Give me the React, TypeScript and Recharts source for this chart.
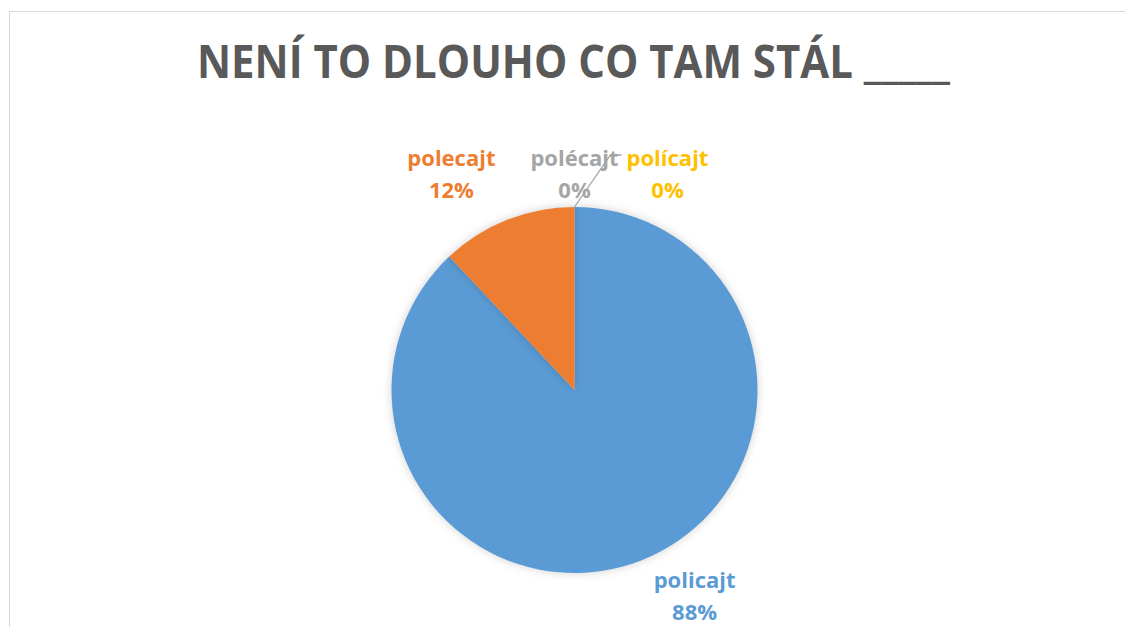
import React from "react";
import { PieChart, Pie, Cell } from "recharts";

const NAMES = ["policajt", "polecajt", "polécajt", "polícajt"];
const VALUES = [88, 12, 0, 0];
const COLORS = ["#5B9BD5", "#ED7D31", "#A5A5A5", "#FFC000"];
const TITLE = "NENÍ TO DLOUHO CO TAM STÁL _____";

// small nudges so labels sit where Excel's best-fit put them
const LABEL_NUDGE = [
  [38, -1],
  [-41, -9],
  [0, 7],
  [93, 7],
];

const data = NAMES.map((name, i) => ({ name, value: VALUES[i] }));

const FONT = "'Open Sans', 'DejaVu Sans', sans-serif";
const RAD = Math.PI / 180;

const renderLabel = (props: any) => {
  const { cx, cy, midAngle, outerRadius, percent, index } = props;
  const r = outerRadius + 40;
  const x = cx + r * Math.cos(-midAngle * RAD) + LABEL_NUDGE[index][0];
  const y = cy + r * Math.sin(-midAngle * RAD) + LABEL_NUDGE[index][1];
  const color = COLORS[index];
  return (
    <g key={`lbl-${index}`}>
      {index === 2 && (
        <polyline
          points={`${cx},${cy - outerRadius} ${cx + 36},${cy - outerRadius - 52} ${cx + 47},${cy - outerRadius - 52}`}
          fill="none"
          stroke="#A5A5A5"
          strokeWidth={1.3}
        />
      )}
      <text
        x={x}
        y={y - 8}
        textAnchor="middle"
        fill={color}
        fontFamily={FONT}
        fontWeight={700}
        fontSize={22}
      >
        {NAMES[index]}
      </text>
      <text
        x={x}
        y={y + 24}
        textAnchor="middle"
        fill={color}
        fontFamily={FONT}
        fontWeight={700}
        fontSize={22}
      >
        {Math.round(percent * 100)}%
      </text>
    </g>
  );
};

export default function App() {
  return (
    <div
      style={{
        position: "fixed",
        left: 0,
        top: 0,
        width: 1125,
        height: 627,
        overflow: "hidden",
        background: "#fff",
      }}
    >
      <style>{`.recharts-pie-sector path { filter: drop-shadow(0 0 5px rgba(0,0,0,0.18)); }`}</style>
      {/* chart frame, runs off the right and bottom */}
      <div
        style={{
          position: "absolute",
          left: 9,
          top: 11,
          width: 1200,
          height: 700,
          border: "1px solid #d9d9d9",
        }}
      />
      <svg
        width={1125}
        height={120}
        style={{ position: "absolute", left: 0, top: 0 }}
      >
        <text
          x={573.5}
          y={78}
          textAnchor="middle"
          fill="#595959"
          fontFamily={FONT}
          fontWeight={700}
          fontSize={46}
          textLength={753}
          lengthAdjust="spacingAndGlyphs"
        >
          {TITLE}
        </text>
      </svg>
      <div style={{ position: "absolute", left: 0, top: 0 }}>
        <PieChart
          width={1125}
          height={627}
          margin={{ top: 0, right: 0, bottom: 0, left: 0 }}
        >
          <Pie
            data={data}
            dataKey="value"
            nameKey="name"
            cx={574.5}
            cy={390}
            outerRadius={183}
            startAngle={90}
            endAngle={-270}
            stroke="none"
            label={renderLabel}
            labelLine={false}
            isAnimationActive={false}
          >
            {data.map((d, i) => (
              <Cell key={d.name} fill={COLORS[i]} />
            ))}
          </Pie>
        </PieChart>
      </div>
    </div>
  );
}
